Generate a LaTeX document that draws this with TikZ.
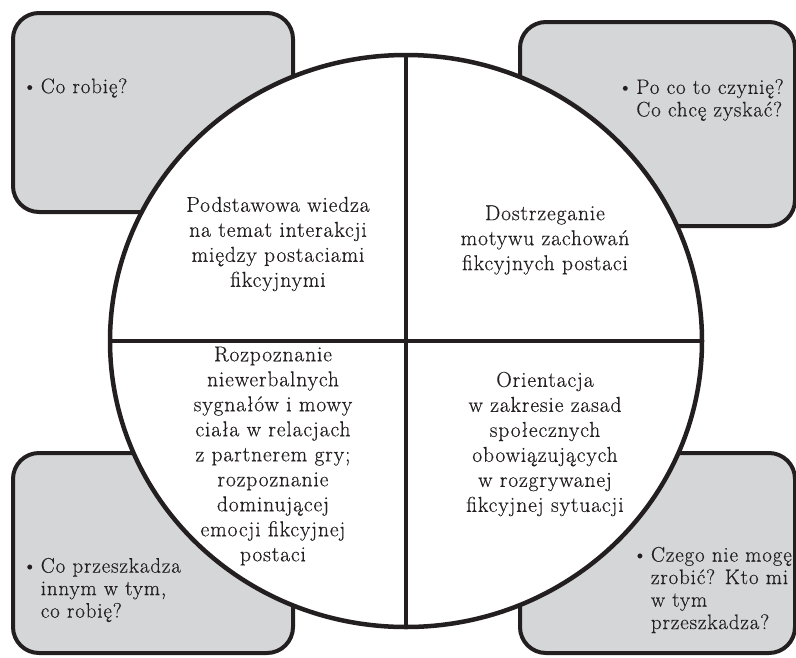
\documentclass[tikz,border=0pt]{standalone}
\usepackage{fontspec}
\setmainfont{Latin Modern Roman}[LetterSpace=4,FakeBold=0.4]
\usepackage{xcolor}
\usepackage{tikz}
\usetikzlibrary{shapes.geometric}
\definecolor{ink}{HTML}{231F20}
\definecolor{boxfill}{HTML}{D5D6D8}
\newcommand{\tipfont}{\fontsize{21}{22.5}\selectfont}
\newcommand{\wheelfont}{\fontsize{21.5}{25}\selectfont}
\newcommand{\dotmark}{\textbullet\,}
\newcommand{\indt}{\hphantom{\dotmark}}

\begin{document}
\begin{tikzpicture}[x=1pt,y=-1pt,
  box/.style={rectangle,rounded corners=26pt,draw=ink,fill=boxfill,
    line width=4pt,inner sep=0pt},
  tip/.style={align=left,font=\tipfont,text=ink,inner sep=0pt},
  q/.style={align=center,font=\wheelfont,text=ink,inner sep=0pt},
  cut/.style={draw=ink,line width=4pt},
]
  \useasboundingbox (0,0) rectangle (796,657);
  % corner boxes
  \node[box,minimum width=280pt,minimum height=199pt] (tlbox) at (153,112.5) {};
  \node[box,minimum width=275pt,minimum height=204pt] (trbox) at (657.5,124) {};
  \node[box,minimum width=280pt,minimum height=200pt] (blbox) at (153,553) {};
  \node[box,minimum width=275pt,minimum height=200pt] (brbox) at (657.5,553) {};
  % the wheel
  \node[ellipse,draw=ink,fill=white,line width=4.5pt,inner sep=0pt,
    minimum width=592pt,minimum height=572pt] (wheel) at (406,341) {};
  \draw[cut] (wheel.north)--(wheel.south);
  \draw[cut] (wheel.west)--(wheel.east);
  % quarter texts
  \node[q] (know) at (278,244) {Podstawowa wiedza\\na temat interakcji\\między postaciami\\fikcyjnymi};
  \node[q] (motive) at (545,240) {Dostrzeganie\\motywu zachowań\\fikcyjnych postaci};
  \node[q] (signs) at (273,456) {Rozpoznanie\\niewerbalnych\\sygnałów i mowy\\ciała w relacjach\\z partnerem gry;\\rozpoznanie\\dominującej\\emocji fikcyjnej\\postaci};
  \node[q] (rules) at (545,444) {Orientacja\\w zakresie zasad\\społecznych\\obowiązujących\\w rozgrywanej\\fikcyjnej sytuacji};
  % questions in the boxes
  \node[tip,anchor=west] (qdo) at (22,88) {\dotmark Co robię?};
  \node[tip,anchor=east] (qwhy) at (784,100) {\dotmark Po co to czynię?\\\indt Co chcę zyskać?};
  \node[tip,anchor=west] (qothers) at (22,590) {\dotmark Co przeszkadza\\\indt innym w tym,\\\indt co robię?};
  \node[tip,anchor=east] (qcant) at (792,590) {\dotmark Czego nie mogę\\\indt zrobić? Kto mi\\\indt w tym\\\indt przeszkadza?};
\end{tikzpicture}
\end{document}
